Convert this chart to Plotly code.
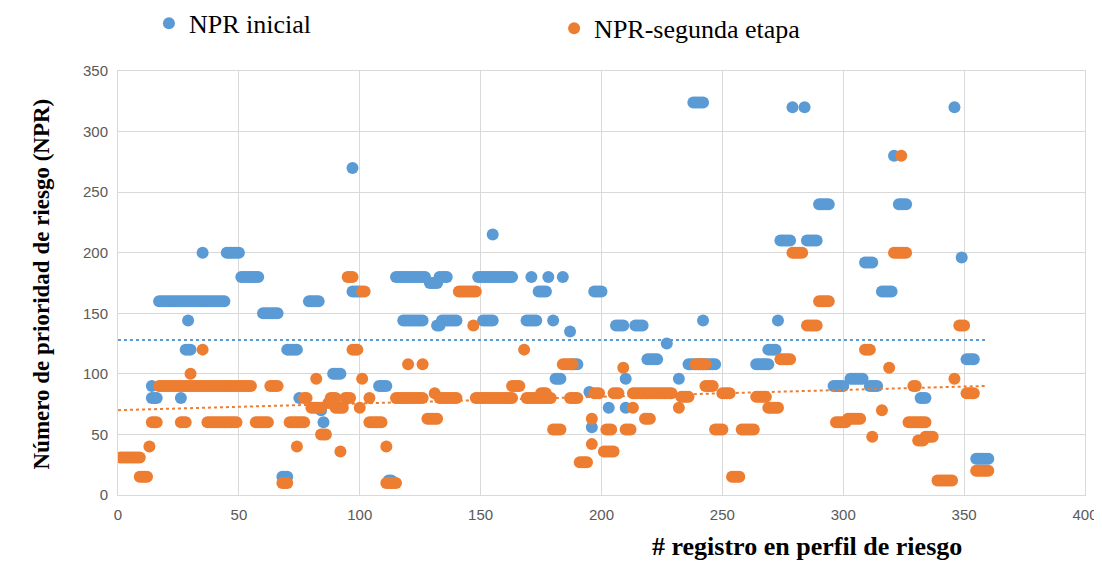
import plotly.graph_objects as go

# Runs of equal NPR: (first record, last record, NPR)
blue_runs = [
    (14, 16, 80), (14, 14, 90), (26, 26, 80), (17, 44, 160), (29, 29, 144), (28, 30, 120),
    (35, 35, 200), (45, 50, 200), (51, 58, 180), (60, 66, 150), (70, 74, 120), (68, 70, 15),
    (75, 75, 80), (79, 83, 160), (84, 84, 70), (85, 85, 60), (89, 92, 100), (97, 97, 270),
    (97, 100, 168), (108, 111, 90), (112, 113, 12), (115, 127, 180), (129, 132, 175),
    (133, 136, 180), (118, 126, 144), (132, 133, 140), (134, 140, 144), (149, 163, 180),
    (151, 155, 144), (155, 155, 215), (171, 171, 180), (174, 177, 168), (169, 173, 144),
    (178, 178, 180), (180, 180, 144), (181, 183, 96), (184, 184, 180), (187, 187, 135),
    (188, 190, 108), (195, 195, 85), (196, 196, 56), (197, 200, 168), (203, 203, 72),
    (206, 209, 140), (210, 210, 96), (210, 210, 72), (214, 217, 140), (219, 223, 112),
    (227, 227, 125), (232, 232, 96), (236, 247, 108), (238, 242, 324), (242, 242, 144),
    (264, 269, 108), (269, 272, 120), (273, 273, 144), (274, 278, 210), (279, 279, 320),
    (284, 284, 320), (285, 289, 210), (290, 294, 240), (296, 300, 90), (303, 308, 96),
    (309, 312, 192), (311, 314, 90), (316, 320, 168), (321, 321, 280), (323, 326, 240),
    (332, 334, 80), (346, 346, 320), (349, 349, 196), (351, 354, 112), (355, 360, 30),
]

orange_runs = [
    (1, 9, 31), (9, 12, 15), (13, 13, 40), (14, 16, 60), (17, 55, 90), (63, 66, 90),
    (30, 30, 100), (35, 35, 120), (26, 28, 60), (37, 49, 60), (57, 62, 60), (71, 77, 60),
    (74, 74, 40), (68, 70, 10), (82, 82, 96), (77, 78, 80), (80, 84, 72), (87, 89, 76),
    (88, 90, 80), (90, 93, 72), (94, 96, 80), (84, 86, 50), (92, 92, 36), (95, 97, 180),
    (97, 99, 120), (101, 102, 168), (101, 101, 96), (104, 104, 80), (100, 100, 72),
    (104, 109, 60), (111, 111, 40), (111, 115, 10), (115, 126, 80), (120, 120, 108),
    (126, 126, 108), (128, 132, 63), (131, 131, 84), (133, 140, 80), (141, 148, 168),
    (147, 147, 140), (148, 163, 80), (163, 166, 90), (168, 168, 120), (169, 179, 80),
    (175, 177, 84), (180, 183, 54), (184, 188, 108), (187, 190, 80), (191, 194, 27),
    (196, 196, 42), (196, 196, 63), (197, 199, 84), (201, 205, 36), (202, 204, 54),
    (205, 207, 84), (209, 209, 105), (210, 212, 54), (213, 213, 72), (213, 229, 84),
    (218, 220, 63), (232, 232, 72), (233, 236, 81), (239, 243, 108), (243, 246, 90),
    (247, 250, 54), (250, 253, 84), (254, 257, 15), (258, 263, 54), (264, 268, 81),
    (269, 273, 72), (274, 278, 112), (279, 283, 200), (285, 289, 140), (290, 294, 160),
    (297, 301, 60), (302, 307, 63), (309, 311, 120), (312, 312, 48), (316, 316, 70),
    (319, 319, 105), (321, 326, 200), (324, 324, 280), (327, 334, 60), (329, 330, 90),
    (331, 333, 45), (334, 337, 48), (339, 345, 12), (346, 346, 96), (348, 350, 140),
    (351, 354, 84), (355, 360, 20),
]

# Trend lines (dotted)
trend_x = [0, 359]
blue_trend = [128, 128]
orange_trend = [70, 90]

x_ticks = [0, 50, 100, 150, 200, 250, 300, 350, 400]
y_ticks = [0, 50, 100, 150, 200, 250, 300, 350]

BLUE = "#5B9BD5"
ORANGE = "#ED7D31"


def expand(runs):
    xs, ys = [], []
    for a, b, v in runs:
        for x in range(a, b + 1):
            xs.append(x)
            ys.append(v)
    return xs, ys


bx, by = expand(blue_runs)
ox, oy = expand(orange_runs)

fig = go.Figure()
fig.add_trace(go.Scatter(x=bx, y=by, mode="markers", name="NPR inicial",
                         marker=dict(color=BLUE, size=12, line=dict(width=0)),
                         legend="legend"))
fig.add_trace(go.Scatter(x=ox, y=oy, mode="markers", name="NPR-segunda etapa",
                         marker=dict(color=ORANGE, size=12, line=dict(width=0)),
                         legend="legend2"))
fig.add_trace(go.Scatter(x=trend_x, y=blue_trend, mode="lines", showlegend=False,
                         line=dict(color=BLUE, width=2, dash="dot"), hoverinfo="skip"))
fig.add_trace(go.Scatter(x=trend_x, y=orange_trend, mode="lines", showlegend=False,
                         line=dict(color=ORANGE, width=2, dash="dot"), hoverinfo="skip"))

tick_font = dict(family="Liberation Sans Narrow, Arial Narrow, Liberation Sans, Arial",
                 size=15, color="#595959")
serif = "Liberation Serif, Times New Roman, serif"

fig.update_layout(
    width=1094, height=557,
    margin=dict(l=110, r=17, t=63, b=70, autoexpand=False),
    paper_bgcolor="white", plot_bgcolor="white",
    xaxis=dict(range=[0, 400], tickvals=x_ticks, showgrid=True, gridcolor="#d9d9d9",
               gridwidth=1, zeroline=False, showline=True, linecolor="#d9d9d9",
               mirror=True, ticks="", tickfont=tick_font, ticklabelstandoff=6,
               automargin=False),
    yaxis=dict(range=[0, 350], tickvals=y_ticks, showgrid=True, gridcolor="#d9d9d9",
               gridwidth=1, zeroline=False, showline=True, linecolor="#d9d9d9",
               mirror=True, ticks="", tickfont=tick_font, ticklabelstandoff=6,
               automargin=False),
    legend=dict(x=0.032, y=1.168, xanchor="left", yanchor="top",
                bgcolor="rgba(0,0,0,0)", font=dict(family=serif, size=26, color="#000"),
                itemsizing="constant"),
    legend2=dict(x=0.451, y=1.156, xanchor="left", yanchor="top",
                 bgcolor="rgba(0,0,0,0)", font=dict(family=serif, size=26, color="#000"),
                 itemsizing="constant"),
    annotations=[
        dict(text="<b># registro en perfil de riesgo</b>", x=0.7125, y=-0.1226,
             xref="paper", yref="paper", xanchor="center", yanchor="middle",
             showarrow=False, font=dict(family=serif, size=26, color="#000")),
        dict(text="<b>Número de prioridad de riesgo (NPR)</b>", x=-0.0786, y=0.4988,
             xref="paper", yref="paper", xanchor="center", yanchor="middle",
             textangle=-90, showarrow=False, font=dict(family=serif, size=23, color="#000")),
    ],
)

fig.write_html("out.html")
